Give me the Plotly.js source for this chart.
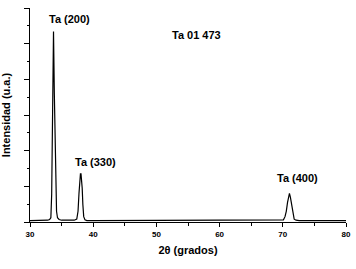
<!DOCTYPE html>
<html><head><meta charset="utf-8">
<script src="https://cdn.plot.ly/plotly-3.0.1.min.js"></script>
<style>html,body{margin:0;padding:0;background:#fff}</style>
</head><body><div id="chart" style="width:356px;height:269px"></div>
<script>
var twoTheta = [30.0, 31.0, 32.0, 32.8, 33.1, 33.3, 33.43, 33.6, 33.72, 33.85, 34.0, 34.11, 34.2, 34.35, 34.6, 35.0, 36.0, 37.0, 37.4, 37.6, 37.75, 37.88, 37.98, 38.07, 38.16, 38.26, 38.36, 38.5, 38.7, 39.0, 40.0, 42.0, 44.0, 46.0, 48.0, 50.0, 52.0, 54.0, 56.0, 58.0, 60.0, 62.0, 64.0, 66.0, 68.0, 69.5, 70.1, 70.35, 70.55, 70.75, 70.92, 71.05, 71.2, 71.4, 71.6, 71.8, 72.1, 72.6, 74.0, 76.0, 78.0, 80.0];
var intensity = [0.04, 0.04, 0.04, 0.05, 0.07, 0.12, 0.78, 2.8, 5.34, 3.6, 2.3, 1.46, 0.3, 0.12, 0.07, 0.05, 0.05, 0.05, 0.08, 0.3, 0.8, 1.2, 1.35, 1.35, 1.2, 0.95, 0.5, 0.15, 0.06, 0.04, 0.04, 0.04, 0.04, 0.05, 0.04, 0.05, 0.04, 0.05, 0.04, 0.05, 0.04, 0.04, 0.04, 0.04, 0.04, 0.04, 0.06, 0.15, 0.3, 0.55, 0.76, 0.8, 0.7, 0.45, 0.2, 0.08, 0.05, 0.04, 0.04, 0.04, 0.04, 0.04];
var peakLabels = ["Ta (200)", "Ta 01 473", "Ta (330)", "Ta (400)"];
var labelX = [36.2, 56.3, 40.3, 72.25];
var labelY = [5.68, 5.25, 1.67, 1.23];

var font = "Liberation Sans, Arial, sans-serif";
var annotations = peakLabels.map(function(t, i){
  return {x: labelX[i], y: labelY[i], xref: 'x', yref: 'y', text: t, showarrow: false,
          font: {family: font, size: 11, color: '#000', weight: 'bold'}, xanchor: 'center', yanchor: 'middle'};
});

Plotly.newPlot('chart', [{
  x: twoTheta, y: intensity, type: 'scatter', mode: 'lines',
  line: {color: '#000', width: 1.2, shape: 'linear'}, hoverinfo: 'skip'
}], {
  width: 356, height: 269,
  margin: {l: 30, r: 10, t: 8, b: 47},
  paper_bgcolor: '#fff', plot_bgcolor: '#fff',
  showlegend: false,
  font: {family: font, color: '#000'},
  xaxis: {
    range: [30, 80], dtick: 10, tick0: 30, showgrid: false, zeroline: false,
    showline: true, linecolor: '#000', linewidth: 1,
    ticks: 'outside', ticklen: 4, tickwidth: 1, tickcolor: '#000',
    minor: {dtick: 5, ticks: 'outside', ticklen: 3, tickcolor: '#000', showgrid: false},
    tickfont: {family: font, size: 8, color: '#000', weight: 'bold'},
    title: {text: '2θ (grados)', font: {family: font, size: 11, color: '#000', weight: 'bold'}, standoff: 8}
  },
  yaxis: {
    range: [0, 6], dtick: 1, showgrid: false, zeroline: false,
    showline: true, linecolor: '#000', linewidth: 1,
    ticks: 'outside', ticklen: 5, tickwidth: 1, tickcolor: '#000',
    minor: {dtick: 0.5, ticks: 'outside', ticklen: 2, tickcolor: '#000', showgrid: false},
    showticklabels: false,
    title: {text: 'Intensidad (u.a.)', font: {family: font, size: 11, color: '#000', weight: 'bold'}, standoff: 12}
  },
  annotations: annotations
}, {displayModeBar: false, staticPlot: true});
</script></body></html>
